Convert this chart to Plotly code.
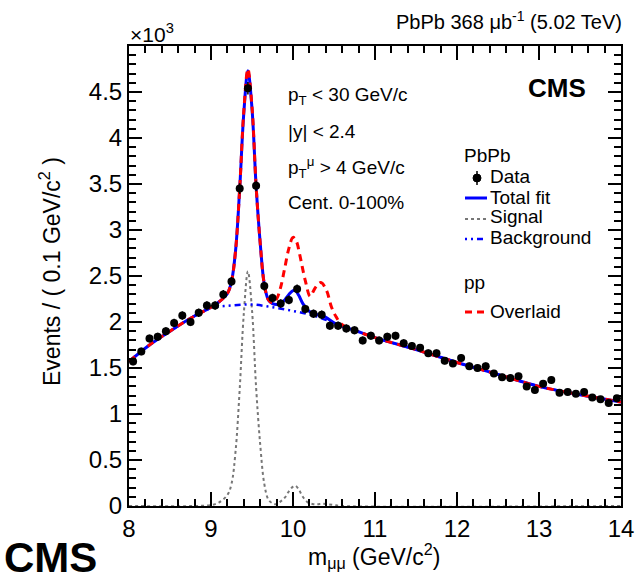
import plotly.graph_objects as go
import numpy as np

# ---------------- data (values in units of 10^3 events) ----------------
mass_bins = [8.05, 8.15, 8.25, 8.35, 8.45, 8.55, 8.65, 8.75, 8.85, 8.95,
             9.05, 9.15, 9.25, 9.35, 9.45, 9.55, 9.65, 9.75, 9.85, 9.95,
             10.05, 10.15, 10.25, 10.35, 10.45, 10.55, 10.65, 10.75, 10.85, 10.95,
             11.05, 11.15, 11.25, 11.35, 11.45, 11.55, 11.65, 11.75, 11.85, 11.95,
             12.05, 12.15, 12.25, 12.35, 12.45, 12.55, 12.65, 12.75, 12.85, 12.95,
             13.05, 13.15, 13.25, 13.35, 13.45, 13.55, 13.65, 13.75, 13.85, 13.95]
data_counts = [1.57, 1.68, 1.82, 1.84, 1.90, 1.99, 2.07, 2.00, 2.10, 2.18,
               2.18, 2.30, 2.44, 3.45, 4.54, 3.48, 2.39, 2.26, 2.20, 2.24,
               2.36, 2.14, 2.09, 2.08, 1.96, 1.96, 1.93, 1.91, 1.80, 1.85,
               1.80, 1.84, 1.85, 1.77, 1.74, 1.72, 1.66, 1.66, 1.58, 1.55,
               1.61, 1.52, 1.50, 1.52, 1.44, 1.40, 1.39, 1.41, 1.30, 1.26,
               1.33, 1.37, 1.23, 1.24, 1.22, 1.24, 1.18, 1.16, 1.12, 1.17]

bkg_x = [8.0, 8.25, 8.5, 8.75, 9.0, 9.25, 9.5, 9.75, 10.0, 10.25, 10.5, 10.75,
         11.0, 11.5, 12.0, 12.5, 13.0, 13.5, 14.0]
bkg_y = [1.57, 1.75, 1.90, 2.04, 2.15, 2.18, 2.19, 2.16, 2.12, 2.07, 1.99, 1.91,
         1.83, 1.70, 1.56, 1.43, 1.30, 1.21, 1.13]

total_x = [8.0, 8.25, 8.5, 8.75, 9.0, 9.1, 9.2, 9.25, 9.3, 9.35, 9.4, 9.45, 9.5,
           9.55, 9.6, 9.65, 9.7, 9.75, 9.8, 9.85, 9.9, 9.95, 10.0, 10.03, 10.07,
           10.12, 10.18, 10.25, 10.3, 10.36, 10.42, 10.5, 10.75, 11.0, 11.5,
           12.0, 12.5, 13.0, 13.5, 14.0]
total_y = [1.57, 1.75, 1.90, 2.04, 2.16, 2.22, 2.31, 2.44, 2.78, 3.45, 4.27, 4.73, 4.32,
           3.48, 2.86, 2.41, 2.24, 2.20, 2.19, 2.20, 2.24, 2.30, 2.34, 2.34, 2.29,
           2.20, 2.13, 2.09, 2.08, 2.07, 2.04, 1.99, 1.91, 1.83, 1.70,
           1.56, 1.43, 1.30, 1.21, 1.13]

signal_x = [8.0, 8.8, 9.0, 9.1, 9.2, 9.25, 9.3, 9.35, 9.4, 9.45, 9.5, 9.55, 9.6,
            9.65, 9.7, 9.75, 9.8, 9.85, 9.9, 9.95, 10.0, 10.03, 10.07, 10.12,
            10.18, 10.25, 10.3, 10.36, 10.42, 10.5, 10.6, 14.0]
signal_y = [0.0, 0.0, 0.01, 0.04, 0.12, 0.24, 0.60, 1.27, 2.09, 2.55, 2.13, 1.29, 0.67,
            0.24, 0.07, 0.03, 0.02, 0.05, 0.09, 0.16, 0.21, 0.22, 0.18, 0.10,
            0.04, 0.02, 0.02, 0.025, 0.02, 0.01, 0.0, 0.0]

overlaid_x = [8.0, 8.25, 8.5, 8.75, 9.0, 9.1, 9.2, 9.25, 9.3, 9.35, 9.4, 9.45, 9.5,
              9.55, 9.6, 9.65, 9.7, 9.75, 9.8, 9.85, 9.9, 9.95, 10.0, 10.04, 10.08,
              10.15, 10.21, 10.27, 10.34, 10.41, 10.47, 10.53, 10.6, 10.75, 11.0,
              11.5, 12.0, 12.5, 13.0, 13.5, 14.0]
overlaid_y = [1.57, 1.75, 1.90, 2.04, 2.16, 2.22, 2.31, 2.44, 2.78, 3.45, 4.29, 4.75, 4.34,
              3.48, 2.86, 2.41, 2.24, 2.21, 2.25, 2.38, 2.59, 2.80, 2.92, 2.88, 2.74,
              2.45, 2.28, 2.37, 2.43, 2.34, 2.16, 2.05, 1.97, 1.91, 1.83,
              1.70, 1.56, 1.43, 1.30, 1.21, 1.13]

x_ticks = [8, 9, 10, 11, 12, 13, 14]
y_ticks = [0, 0.5, 1, 1.5, 2, 2.5, 3, 3.5, 4, 4.5]
y_tick_labels = ["0", "0.5", "1", "1.5", "2", "2.5", "3", "3.5", "4", "4.5"]

# statistical errors of the data (sqrt(N), in 10^3 units)
data_err = [np.sqrt(v * 1000.0) / 1000.0 for v in data_counts]

# ---------------- layout geometry ----------------
W, H = 635, 579
L, R, T, B = 129, 14, 46, 73
PW, PH = W - L - R, H - T - B
FONT = "Liberation Sans, Arial, Helvetica, sans-serif"


def px(x):
    return (x - L) / PW


def py(y):
    return (H - B - y) / PH


fig = go.Figure()

fig.add_trace(go.Scatter(x=signal_x, y=signal_y, mode="lines", line_shape="spline",
                         line=dict(color="#777777", width=2, dash="dot"),
                         showlegend=False, hoverinfo="skip"))
fig.add_trace(go.Scatter(x=bkg_x, y=bkg_y, mode="lines", line_shape="spline",
                         line=dict(color="#0000ff", width=2.5, dash="2px,4px,2px,4px,6px,4px"),
                         showlegend=False, hoverinfo="skip"))
fig.add_trace(go.Scatter(x=total_x, y=total_y, mode="lines", line_shape="spline",
                         line=dict(color="#0000ff", width=3),
                         showlegend=False, hoverinfo="skip"))
fig.add_trace(go.Scatter(x=overlaid_x, y=overlaid_y, mode="lines", line_shape="spline",
                         line=dict(color="#ff0000", width=3, dash="7px,5px"),
                         showlegend=False, hoverinfo="skip"))
fig.add_trace(go.Scatter(x=mass_bins, y=data_counts, mode="markers",
                         marker=dict(color="black", size=8),
                         error_y=dict(type="data", array=data_err, color="black",
                                      thickness=1.5, width=0),
                         showlegend=False))

ann = []


def text(x, y, s, size=20, xanchor="left", yanchor="middle", angle=0):
    ann.append(dict(x=px(x), y=py(y), xref="paper", yref="paper", text=s,
                    showarrow=False, xanchor=xanchor, yanchor=yanchor,
                    textangle=angle, font=dict(family=FONT, size=size, color="black")))


text(128, 48, "×10<sup>3</sup>", size=21, yanchor="bottom")
text(624, 20, "PbPb 368 μb<sup>-1</sup> (5.02 TeV)", size=20, xanchor="right")
text(557, 88, "<b>CMS</b>", size=26, xanchor="center")

text(286, 96, "p<sub>T</sub> &lt; 30 GeV/c", size=19)
text(286, 131, "|y| &lt; 2.4", size=19)
text(286, 167, "p<sub>T</sub><sup>μ</sup> &gt; 4 GeV/c", size=19)
text(286, 202, "Cent. 0-100%", size=19)

# legend (manual)
text(462, 155, "PbPb", size=19)
text(488, 176, "Data", size=19)
text(488, 197, "Total fit", size=19)
text(488, 217, "Signal", size=19)
text(488, 237, "Background", size=19)
text(462, 282, "pp", size=19)
text(488, 311, "Overlaid", size=19)

text(2, 557, "<b>CMS</b>", size=42)
text(374, 556, "m<sub>μμ</sub> (GeV/c<sup>2</sup>)", size=23, xanchor="center")
text(50, 272, "Events / ( 0.1 GeV/c<sup>2</sup> )", size=23, xanchor="center", angle=-90)

shapes = []


def seg(x0, y0, x1, y1, color, width, dash="solid"):
    shapes.append(dict(type="line", xref="paper", yref="paper", x0=px(x0), y0=py(y0),
                       x1=px(x1), y1=py(y1), line=dict(color=color, width=width, dash=dash)))


# data marker in legend
shapes.append(dict(type="circle", xref="paper", yref="paper",
                   x0=px(473), x1=px(481), y0=py(174), y1=py(182),
                   fillcolor="black", line=dict(color="black", width=1)))
seg(477, 171, 477, 185, "black", 1.5)
seg(465, 198, 487, 198, "#0000ff", 3)
seg(465, 219, 487, 219, "#777777", 2, "dot")
seg(465, 239, 487, 239, "#0000ff", 2.5, "2px,4px,2px,4px,6px,4px")
seg(465, 312, 487, 312, "#ff0000", 3, "7px,5px")

axis_common = dict(showgrid=False, zeroline=False, showline=True, linecolor="black",
                   linewidth=2, mirror="allticks", ticks="inside", tickcolor="black",
                   tickwidth=1.5, automargin=False,
                   tickfont=dict(family=FONT, size=24, color="black"))

fig.update_xaxes(range=[8, 14], tickvals=x_ticks, ticklen=14,
                 minor=dict(dtick=0.2, ticklen=7, ticks="inside", tickcolor="black", tickwidth=1.5),
                 **axis_common)
fig.update_yaxes(range=[0, 5], tickvals=y_ticks, ticktext=y_tick_labels, ticklen=13,
                 minor=dict(dtick=0.1, ticklen=7, ticks="inside", tickcolor="black", tickwidth=1.5),
                 **axis_common)

fig.update_layout(width=W, height=H, margin=dict(l=L, r=R, t=T, b=B, pad=0, autoexpand=False),
                  paper_bgcolor="white", plot_bgcolor="white",
                  annotations=ann, shapes=shapes, showlegend=False,
                  font=dict(family=FONT, color="black"))

fig.write_html("out.html")
